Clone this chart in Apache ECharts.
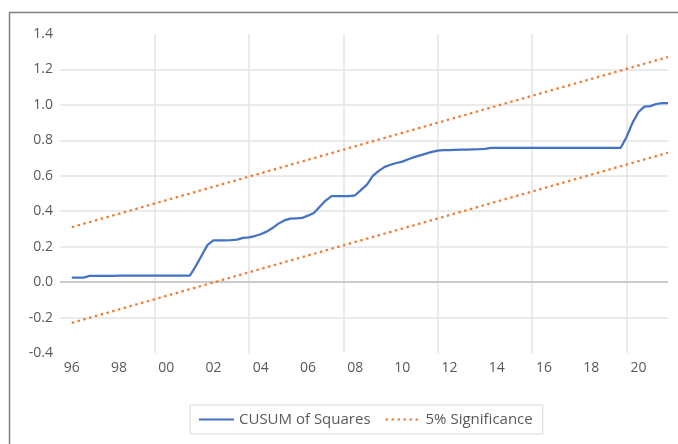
<!DOCTYPE html>
<html><head><meta charset="utf-8">
<script src="https://cdn.jsdelivr.net/npm/echarts@6/dist/echarts.min.js"></script>
<style>html,body{margin:0;padding:0;background:#fff}#c{width:678px;height:444px}</style>
</head><body><div id="c"></div>
<script>
// Quarterly categories 1995Q3 .. 2021Q2
const categories = [];
for (let y = 1995; y <= 2021; y++) {
  for (let q = 1; q <= 4; q++) {
    if ((y === 1995 && q < 3) || (y === 2021 && q > 2)) continue;
    categories.push(y + 'Q' + q);
  }
}
const tickYears = ['96','98','00','02','04','06','08','10','12','14','16','18','20'];
const yTicks = [-0.4,-0.2,0.0,0.2,0.4,0.6,0.8,1.0,1.2,1.4];

const cusum = [
  null,null,0.025,0.025,0.025,0.035,0.035,0.035,0.035,0.035,
  0.036,0.036,0.036,0.036,0.036,0.036,0.036,0.036,0.036,0.036,
  0.036,0.036,0.036,0.09,0.15,0.21,0.235,0.235,0.235,0.237,
  0.24,0.25,0.252,0.26,0.27,0.285,0.305,0.33,0.348,0.358,
  0.36,0.362,0.375,0.39,0.425,0.46,0.485,0.485,0.485,0.485,
  0.49,0.52,0.55,0.6,0.628,0.65,0.662,0.672,0.68,0.693,
  0.705,0.715,0.725,0.735,0.742,0.745,0.745,0.746,0.747,0.748,
  0.749,0.75,0.752,0.758,0.758,0.758,0.758,0.758,0.758,0.758,
  0.758,0.758,0.758,0.758,0.758,0.758,0.758,0.758,0.758,0.758,
  0.758,0.758,0.758,0.758,0.758,0.758,0.82,0.9,0.96,0.99,
  0.993,1.005,1.01,1.01
];
const sigX = ['1996Q1','2021Q2'];
const sigUpper = [0.31, 1.27];
const sigLower = [-0.23, 0.73];

const chart = echarts.init(document.getElementById('c'));
const labelFont = '"Open Sans", sans-serif';
chart.setOption({
  animation: false,
  backgroundColor: '#fff',
  graphic: [{
    type: 'rect', silent: true, z: -10,
    shape: { x: 9.5, y: 12.5, width: 720, height: 520 },
    style: { fill: 'none', stroke: '#7f7f7f', lineWidth: 1.5 }
  }],
  grid: { left: 60, right: 10, top: 34, bottom: 91, containLabel: false },
  xAxis: {
    type: 'category', data: categories, boundaryGap: false,
    axisLine: { show: false, onZero: false },
    axisTick: { show: false },
    axisLabel: {
      color: '#595959', fontFamily: labelFont, fontSize: 14, margin: 8,
      interval: (i, v) => v.endsWith('Q1') && tickYears.includes(v.slice(2, 4)),
      formatter: v => v.slice(2, 4)
    },
    splitLine: {
      show: true,
      interval: (i) => i > 0 && i % 16 === 0,
      lineStyle: { color: '#e3e3e3', width: 1.5 }
    }
  },
  yAxis: {
    type: 'value', min: yTicks[0], max: yTicks[yTicks.length - 1], interval: 0.2,
    axisLine: { show: false }, axisTick: { show: false },
    axisLabel: {
      color: '#595959', fontFamily: labelFont, fontSize: 14, margin: 7,
      padding: [0, 0, 6, 0],
      formatter: v => v.toFixed(1)
    },
    splitLine: { show: true, showMinLine: false, showMaxLine: false, lineStyle: { color: '#e3e3e3', width: 1.5 } }
  },
  legend: {
    data: ['CUSUM of Squares', '5% Significance'],
    left: 190, top: 405,
    padding: [7, 10, 7, 8],
    itemWidth: 35, itemHeight: 12, itemGap: 14,
    itemStyle: { opacity: 0 },
    borderColor: '#d9d9d9', borderWidth: 1,
    textStyle: { color: '#595959', fontFamily: labelFont, fontSize: 15 }
  },
  series: [
    {
      name: 'CUSUM of Squares', type: 'line', data: cusum, symbol: 'none',
      lineStyle: { color: '#4472C4', width: 2.25 }, itemStyle: { color: '#4472C4' },
      z: 3,
      markLine: {
        silent: true, symbol: 'none', label: { show: false },
        lineStyle: { color: '#bfbfbf', width: 1.5, type: 'solid' },
        data: [{ yAxis: 0 }], z: 1
      }
    },
    {
      name: '5% Significance', type: 'line', symbol: 'none',
      data: sigX.map((x, i) => [x, sigUpper[i]]),
      lineStyle: { color: '#ED7D31', width: 2.25, type: [2.5, 3.5] }, itemStyle: { color: '#ED7D31' }
    },
    {
      name: '5% Significance', type: 'line', symbol: 'none',
      data: sigX.map((x, i) => [x, sigLower[i]]),
      lineStyle: { color: '#ED7D31', width: 2.25, type: [2.5, 3.5] }, itemStyle: { color: '#ED7D31' }
    }
  ]
});
</script></body></html>
